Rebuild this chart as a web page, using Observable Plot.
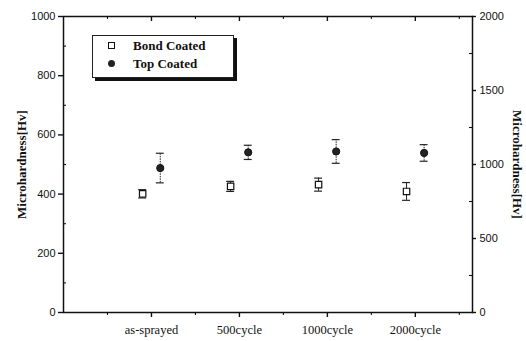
<!DOCTYPE html>
<html>
<head>
<meta charset="utf-8">
<script src="https://cdn.jsdelivr.net/npm/d3@7"></script>
<script src="https://cdn.jsdelivr.net/npm/@observablehq/plot@0.6"></script>
<style>
  html, body { margin: 0; padding: 0; background: #fff; }
  #wrap { position: relative; width: 526px; height: 341px; }
  #legend { position: absolute; left: 92px; top: 35px; width: 140px; height: 41px;
    border: 1px solid #222; box-shadow: 3px 3px 0 #111; background: #fff;
    font-family: "Liberation Serif", serif; font-weight: bold; font-size: 13px; color: #111; }
  .li { position: absolute; left: 0; height: 16px; line-height: 16px; }
  .sym { position: absolute; left: 15px; top: 4px; width: 6px; height: 6px; }
  .lab { position: absolute; left: 40px; top: 0; white-space: nowrap; }
</style>
</head>
<body>
<div id="wrap"></div>
<script>
const categories = ["as-sprayed", "500cycle", "1000cycle", "2000cycle"];
const bondMean = [401, 426, 432, 409];
const bondErr = [14, 17, 22, 30];
const topMean = [488, 541, 544, 539];
const topErr = [50, 24, 40, 28];
const leftTicks = [0, 200, 400, 600, 800, 1000];
const rightTickLabels = [0, 500, 1000, 1500, 2000];
const seriesNames = ["Bond Coated", "Top Coated"];

const rows = [];
categories.forEach((c, i) => {
  rows.push({series: seriesNames[0], pos: i + 1 - 0.1, v: bondMean[i], e: bondErr[i]});
  rows.push({series: seriesNames[1], pos: i + 1 + 0.1, v: topMean[i], e: topErr[i]});
});
const bondRows = rows.filter(d => d.series === seriesNames[0]);
const topRows = rows.filter(d => d.series === seriesNames[1]);
const catPos = categories.map((c, i) => i + 1);
const minorX = d3.range(0.5, 4.6, 1);
const leftMinor = d3.range(100, 1000, 200);
const rightTicks = rightTickLabels.map(v => v / 2);
const rightMinor = d3.range(125, 1000, 250);

const serif = "Liberation Serif, serif";
const sans = "Liberation Sans, Arial, sans-serif";
const ink = "#111";

const W = 526, H = 341, ML = 63, MR = 54, MT = 16, MB = 29;
const PW = W - ML - MR, PH = H - MT - MB;

const chart = Plot.plot({
  width: W, height: H,
  marginLeft: ML, marginRight: MR, marginTop: MT, marginBottom: MB,
  style: {background: "#fff", color: ink},
  x: {type: "linear", domain: [0, 4.65]},
  y: {domain: [0, 1000]},
  marks: [
    Plot.frame({stroke: ink, strokeWidth: 1.5}),
    // tick labels and titles
    Plot.axisX({anchor: "bottom", ticks: catPos, tickFormat: d => categories[d - 1], tickSize: 0, tickPadding: 13,
      fontFamily: serif, fontSize: 12.5, label: null}),
    Plot.axisY({anchor: "left", ticks: leftTicks, tickFormat: d => String(d), tickSize: 0, tickPadding: 8, fontFamily: sans, fontSize: 11,
      label: "Microhardness[Hv]", labelAnchor: "center", labelArrow: "none", labelOffset: 47}),
    Plot.axisY({anchor: "right", ticks: rightTicks, tickFormat: d => String(d * 2), tickSize: 0, tickPadding: 7,
      fontFamily: sans, fontSize: 11, label: "Microhardness[Hv]", labelAnchor: "center", labelArrow: "none", labelOffset: 40}),
    // tick marks
    Plot.ruleX(catPos, {x: d => d, insetTop: PH, insetBottom: -5, stroke: ink, strokeWidth: 1.4}),
    Plot.ruleX(minorX, {x: d => d, insetTop: PH, insetBottom: -3, stroke: ink, strokeWidth: 1.1}),
    Plot.ruleX(catPos, {x: d => d, insetBottom: PH - 5, stroke: ink, strokeWidth: 1.4}),
    Plot.ruleX(minorX, {x: d => d, insetBottom: PH - 3, stroke: ink, strokeWidth: 1.1}),
    Plot.ruleY(leftTicks, {y: d => d, insetLeft: -5, insetRight: PW, stroke: ink, strokeWidth: 1.4}),
    Plot.ruleY(leftMinor, {y: d => d, insetRight: PW - 3, stroke: ink, strokeWidth: 1.1}),
    Plot.ruleY(rightTicks, {y: d => d, insetLeft: PW, insetRight: -4, stroke: ink, strokeWidth: 1.4}),
    Plot.ruleY(rightMinor, {y: d => d, insetLeft: PW - 3, stroke: ink, strokeWidth: 1.1}),
    // error bars
    Plot.ruleX(bondRows, {x: "pos", y1: d => d.v - d.e, y2: d => d.v + d.e, stroke: "#222", strokeWidth: 1}),
    Plot.ruleX(topRows, {x: "pos", y1: d => d.v - d.e, y2: d => d.v + d.e, stroke: "#222", strokeWidth: 1, strokeDasharray: "1.5,1"}),
    Plot.ruleY(rows, {x1: d => d.pos - 0.045, x2: d => d.pos + 0.045, y: d => d.v - d.e, stroke: "#222", strokeWidth: 1.2}),
    Plot.ruleY(rows, {x1: d => d.pos - 0.045, x2: d => d.pos + 0.045, y: d => d.v + d.e, stroke: "#222", strokeWidth: 1.2}),
    // points
    Plot.dot(bondRows, {x: "pos", y: "v", symbol: "square", r: 3.6, fill: "#fff", stroke: ink, strokeWidth: 1.2}),
    Plot.dot(topRows, {x: "pos", y: "v", symbol: "circle", r: 3.6, fill: "#222", stroke: ink, strokeWidth: 1})
  ]
});

const labels = d3.select(chart).selectAll("g[aria-label='y-axis label'] text")
  .attr("font-family", serif).attr("font-weight", "bold").attr("font-size", 13);
labels.each(function() {
  const t = this.getAttribute("transform") || "";
  const m = t.match(/translate\(([-\d.]+),([-\d.]+)\)/);
  if (m && +m[1] > W / 2) this.setAttribute("transform", `translate(${m[1]},${m[2]}) rotate(90)`);
});

const wrap = document.getElementById("wrap");
wrap.appendChild(chart);

const leg = document.createElement("div");
leg.id = "legend";
leg.innerHTML = `
  <div class="li" style="top:2px"><div class="sym" style="border:1.2px solid #111;background:#fff;width:5px;height:5px"></div><span class="lab">${seriesNames[0]}</span></div>
  <div class="li" style="top:20px"><div class="sym" style="background:#222;border-radius:50%;width:7px;height:7px;top:4px;left:15px"></div><span class="lab">${seriesNames[1]}</span></div>`;
wrap.appendChild(leg);
</script>
</body>
</html>
